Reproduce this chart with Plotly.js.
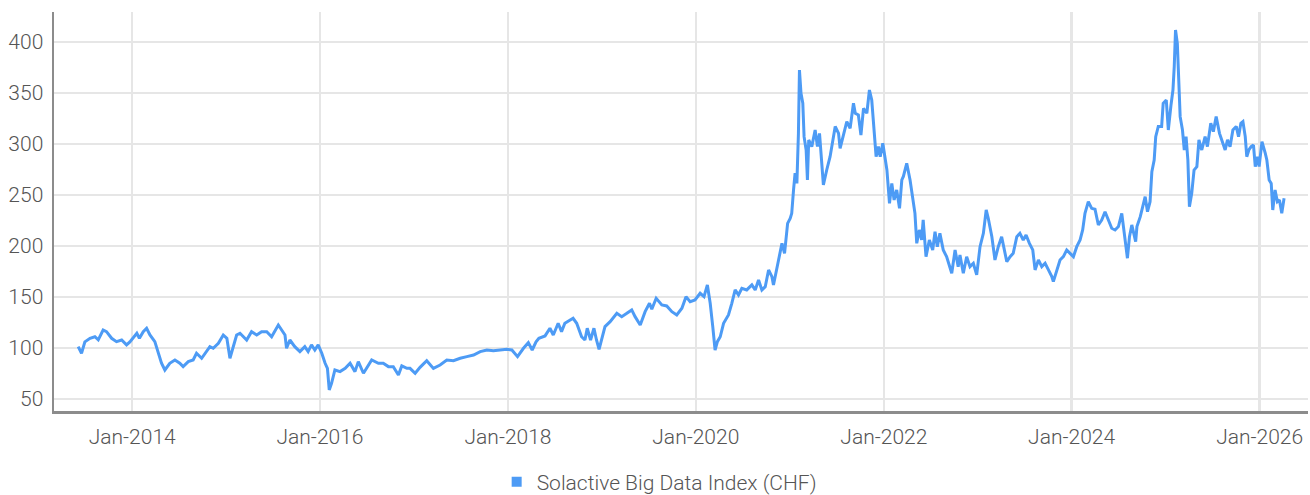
<!DOCTYPE html>
<html>
<head>
<meta charset="utf-8">
<script src="https://cdn.plot.ly/plotly-3.0.1.min.js"></script>
<style>
html,body{margin:0;padding:0;background:#fff;}
#chart{width:1310px;height:495px;}
</style>
</head>
<body>
<div id="chart"></div>
<script>
const seriesName = "Solactive Big Data Index (CHF)";

const dates = [
"2013-06-05","2013-06-18","2013-07-01","2013-07-21","2013-08-09","2013-08-22","2013-09-10","2013-09-23","2013-10-13","2013-11-01","2013-11-21","2013-12-10","2013-12-23",
"2014-01-06","2014-01-19","2014-01-29","2014-02-13","2014-02-26","2014-03-11","2014-03-30","2014-04-12","2014-04-25","2014-05-08","2014-05-27","2014-06-16","2014-07-05","2014-07-18","2014-08-07","2014-08-26","2014-09-08","2014-09-28","2014-10-17","2014-10-30","2014-11-12","2014-12-02","2014-12-21",
"2015-01-04","2015-01-16","2015-01-29","2015-02-11","2015-02-24","2015-03-22","2015-04-10","2015-04-30","2015-05-19","2015-06-08","2015-06-27","2015-07-23","2015-08-05","2015-08-18","2015-08-24","2015-09-06","2015-09-25","2015-10-15","2015-11-03","2015-11-16","2015-11-29","2015-12-12","2015-12-25",
"2016-01-08","2016-01-21","2016-01-30","2016-02-06","2016-02-15","2016-02-28","2016-03-19","2016-04-08","2016-04-27","2016-05-16","2016-05-29","2016-06-18","2016-07-07","2016-07-20","2016-08-15","2016-09-03","2016-09-23","2016-10-12","2016-11-01","2016-11-14","2016-12-04","2016-12-16",
"2017-01-05","2017-01-24","2017-02-19","2017-03-17","2017-04-12","2017-05-08","2017-06-03","2017-06-29","2017-07-25","2017-08-20","2017-09-15","2017-10-11","2017-11-05","2017-12-02","2017-12-28",
"2018-01-16","2018-02-07","2018-03-02","2018-03-21","2018-04-05","2018-04-20","2018-05-01","2018-05-25","2018-06-13","2018-06-26","2018-07-15","2018-07-28","2018-08-10","2018-08-30","2018-09-11","2018-09-25","2018-10-14","2018-10-27","2018-11-05","2018-11-18","2018-12-01","2018-12-11","2018-12-21",
"2019-01-13","2019-02-02","2019-02-28","2019-03-19","2019-04-08","2019-04-27","2019-05-10","2019-05-30","2019-06-18","2019-07-05","2019-07-14","2019-07-31","2019-08-22","2019-09-10","2019-09-30","2019-10-19","2019-11-08","2019-11-24","2019-12-10","2019-12-29",
"2020-01-18","2020-02-02","2020-02-15","2020-02-26","2020-03-07","2020-03-16","2020-03-25","2020-04-05","2020-04-18","2020-05-07","2020-05-20","2020-06-02","2020-06-15","2020-06-28","2020-07-17","2020-08-06","2020-08-19","2020-09-01","2020-09-14","2020-09-27","2020-10-10","2020-10-23","2020-10-29","2020-11-09","2020-11-24","2020-12-01","2020-12-11","2020-12-23",
"2021-01-02","2021-01-08","2021-01-15","2021-01-21","2021-01-28","2021-02-03","2021-02-07","2021-02-13","2021-02-20","2021-02-25","2021-03-05","2021-03-10","2021-03-15","2021-03-27","2021-04-09","2021-04-18","2021-04-26","2021-05-11","2021-05-24","2021-06-06","2021-06-26","2021-07-09","2021-07-15","2021-07-28","2021-08-10","2021-08-23","2021-09-05","2021-09-12","2021-09-24","2021-10-04","2021-10-14","2021-10-27","2021-11-06","2021-11-15","2021-11-24","2021-12-02","2021-12-11","2021-12-18","2021-12-28",
"2022-01-06","2022-01-13","2022-01-23","2022-02-01","2022-02-10","2022-02-20","2022-03-03","2022-03-12","2022-03-18","2022-03-31","2022-04-13","2022-04-23","2022-05-02","2022-05-09","2022-05-19","2022-05-28","2022-06-03","2022-06-14","2022-06-27","2022-07-10","2022-07-19","2022-07-28","2022-08-07","2022-08-20","2022-09-02","2022-09-22","2022-10-05","2022-10-17","2022-10-24","2022-11-06","2022-11-19","2022-12-02","2022-12-15","2022-12-28",
"2023-01-10","2023-01-23","2023-02-03","2023-02-11","2023-02-25","2023-03-09","2023-03-22","2023-04-04","2023-04-17","2023-04-24","2023-05-07","2023-05-19","2023-06-02","2023-06-14","2023-06-27","2023-07-08","2023-07-21","2023-08-03","2023-08-12","2023-08-25","2023-09-07","2023-09-20","2023-10-03","2023-10-16","2023-10-22","2023-11-05","2023-11-17","2023-11-30","2023-12-13","2023-12-26",
"2024-01-08","2024-01-21","2024-02-03","2024-02-13","2024-02-22","2024-03-06","2024-03-19","2024-04-01","2024-04-14","2024-04-27","2024-05-10","2024-05-23","2024-06-05","2024-06-18","2024-07-01","2024-07-14","2024-07-20","2024-08-05","2024-08-13","2024-08-22","2024-09-06","2024-09-11","2024-09-24","2024-10-07","2024-10-13","2024-10-22","2024-11-01","2024-11-08","2024-11-17","2024-11-23","2024-12-03","2024-12-16","2024-12-22",
"2025-01-03","2025-01-11","2025-01-21","2025-01-29","2025-02-03","2025-02-08","2025-02-15","2025-02-21","2025-02-26","2025-03-07","2025-03-14","2025-03-21","2025-03-28","2025-04-03","2025-04-12","2025-04-21","2025-05-02","2025-05-10","2025-05-21","2025-06-03","2025-06-12","2025-06-25","2025-07-05","2025-07-16","2025-07-29","2025-08-11","2025-08-20","2025-08-29","2025-09-08","2025-09-19","2025-10-02","2025-10-11","2025-10-20","2025-10-28","2025-11-06","2025-11-12","2025-11-20","2025-11-29","2025-12-08","2025-12-15","2025-12-24","2025-12-30",
"2026-01-10","2026-01-23","2026-01-29","2026-02-07","2026-02-15","2026-02-21","2026-03-02","2026-03-11","2026-03-19","2026-03-28","2026-04-06"
];

const values = [
101.3,94.8,106,109.5,111,108,117.6,116,109.5,106.2,107.8,103,106,
111,114.4,109.5,116,119.3,112.7,106.2,94.8,85,78.4,85,88.2,85,81.7,86.6,88.2,94.8,89.9,96.4,101.3,99.7,104.6,112.7,
109.5,89.9,101.3,112.7,114.4,107.8,116,112.7,116,116,111,122.5,117.6,112.7,99.7,107.8,101.3,96.4,101.3,96.4,103,98,103,
94.8,85,80,58.8,65.4,78.4,76.8,80,85,76.8,86.6,75.2,83.3,88.2,85,85,81.7,81.7,73.5,82.4,80,80,
75.2,81,87.5,80,83.3,88.2,87.5,89.9,91.5,93.1,96.4,98,97.4,98,98.7,
98,91.5,99.7,105.2,98,106,109.5,111.8,119.3,112.7,124.2,116,124.2,127.5,129.1,124.2,111,107.8,119.3,107.8,119.3,107.8,98.7,
120.9,125.8,134,130.7,134,137.3,130.7,122.5,135.6,143.8,137.9,148.7,142.2,141.2,135.6,132.4,138.9,150.3,145.4,147,
153.6,150.3,161.8,143.8,120.9,98,106.2,111,124.2,132.4,143.8,156.9,152,158.5,156.9,161.8,156.9,166.7,156.9,160.1,176.5,169.9,161.8,174.8,192.8,202.6,192.8,222.2,
227.1,232,254.9,271.3,261.4,310.4,372.5,349.7,339.9,307.2,294.1,264.7,303.9,297.4,313.7,297.4,310.4,259.8,274.5,287.5,317.2,310.4,295.8,310.4,321.9,315.4,339.9,330.1,328.4,308.8,334.9,330.1,352.9,343.1,310.4,287.5,297.4,287.5,300.7,
284.3,274.5,241.8,261.4,245.1,254.9,236.9,264.7,268.2,281.1,264.7,245.1,232,202.6,215.7,205.9,225.5,189.5,205.9,196.1,214,199.3,212.4,196.1,189.5,173.2,196.1,179.7,191.2,173.2,189.5,179.7,183,171.6,
199.3,212.4,235.3,227.1,209.1,186.3,199.3,209.1,192.8,184.6,189.5,192.8,209.1,212.4,205.9,210.8,202.6,196.1,176.5,186.3,179.7,183,176.5,169.9,165,176.5,186.3,189.5,196.1,192.8,
189.5,199.3,205.9,215.7,232,243.4,236.9,236,220.6,225.5,233.6,225.5,217.4,215.7,219,232,219,188,209.1,220.6,204.2,219,228.7,243.4,248.3,233.6,243.4,272.9,284.3,307.2,317.2,317.2,339.9,
343.1,313.7,337.3,352.9,375.8,411.8,398.7,356.2,326.8,313.7,294.1,307.2,284.3,238.5,251.6,274.5,277.8,304,294.1,307.2,297.4,320.3,312.1,326.8,310.4,300.7,294.1,304,297.4,313.7,317.2,307.2,320.3,321.9,307.2,287.5,294.1,297.4,299,277.8,287.5,277.8,
302.3,290.8,284.3,264.7,261.4,235.3,254.9,243.4,245.1,232,246.7
];

const yTicks = [50,100,150,200,250,300,350,400];
const xTicks = ["2014-01-01","2016-01-01","2018-01-01","2020-01-01","2022-01-01","2024-01-01","2026-01-01"];
const xTickText = ["Jan-2014","Jan-2016","Jan-2018","Jan-2020","Jan-2022","Jan-2024","Jan-2026"];

const lineColor = "#4d9bf5";
const fontFam = "Roboto, 'Open Sans', sans-serif";

const traces = [
  {
    x: dates, y: values, type: "scatter", mode: "lines",
    line: {color: lineColor, width: 3},
    name: seriesName, showlegend: false, hoverinfo: "x+y"
  },
  {
    x: [null], y: [null], type: "scatter", mode: "markers",
    marker: {symbol: "square", size: 10, color: lineColor},
    name: seriesName, showlegend: true
  }
];

const layout = {
  width: 1310, height: 495,
  margin: {l: 54, r: 2, t: 12, b: 84, autoexpand: false},
  paper_bgcolor: "#fff", plot_bgcolor: "#fff",
  font: {family: fontFam, color: "#555", size: 21, weight: 300},
  xaxis: {
    type: "date",
    range: ["2013-03-03", "2026-07-08"],
    tickvals: xTicks, ticktext: xTickText,
    showgrid: true, gridcolor: "#e6e6e6", gridwidth: 2.5,
    showline: true, linecolor: "#8c8c8c", linewidth: 2.5,
    ticks: "", ticklabelstandoff: 5,
    tickfont: {family: fontFam, size: 21, color: "#555", weight: 300},
    zeroline: false, fixedrange: true
  },
  yaxis: {
    range: [38.2, 429.4],
    tickvals: yTicks,
    showgrid: true, gridcolor: "#e6e6e6", gridwidth: 2.5,
    showline: true, linecolor: "#8c8c8c", linewidth: 2.5,
    ticks: "", ticklabelstandoff: 4,
    tickfont: {family: fontFam, size: 21, color: "#555", weight: 300},
    zeroline: false, fixedrange: true
  },
  showlegend: true,
  legend: {
    orientation: "h", x: 0.353, xanchor: "left", y: -0.178, yanchor: "middle",
    font: {family: fontFam, size: 21, color: "#555", weight: 300},
    bgcolor: "rgba(0,0,0,0)", itemwidth: 30
  }
};

Plotly.newPlot("chart", traces, layout, {displayModeBar: false, staticPlot: true});
</script>
</body>
</html>
